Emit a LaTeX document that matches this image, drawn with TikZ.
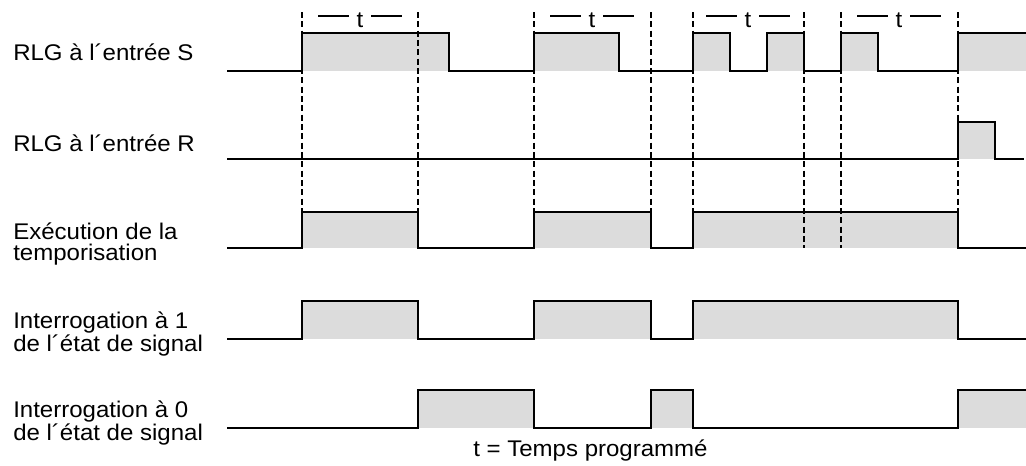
\documentclass[tikz,border=0pt]{standalone}
\usepackage{fontspec}
\setmainfont{Liberation Sans}[FakeStretch=1.06]
\definecolor{fillgray}{RGB}{220,220,220}
\begin{document}
\begin{tikzpicture}[x=0.75pt,y=-0.75pt,
  sig/.style={line width=1.5pt,line join=miter},
  hi/.style={fill=fillgray,draw=none},
  guide/.style={line width=0.8pt,dash pattern=on 4.5pt off 2.5pt},
  tbar/.style={line width=1.1pt},
  lab/.style={anchor=base west,inner sep=0pt,align=left,font=\fontsize{17}{15.75}\selectfont},
  tlab/.style={anchor=base,inner sep=0pt,font=\fontsize{17}{15.75}\selectfont}]
\useasboundingbox (0,0) rectangle (1026,465);

% labels (anchored at the baseline of the last line)
\node[lab] (l1) at (13,60) {RLG à l´entrée S};
\node[lab] (l2) at (13,151) {RLG à l´entrée R};
\node[lab] (l3) at (13,260) {Exécution de la\\temporisation};
\node[lab] (l4) at (13,351) {Interrogation à 1\\de l´état de signal};
\node[lab] (l5) at (13,440) {Interrogation à 0\\de l´état de signal};
\node[lab] (note) at (473,456) {t = Temps programmé};

% fills
\fill[hi] (302,71) rectangle (449,33);
\fill[hi] (534,71) rectangle (619,33);
\fill[hi] (693,71) rectangle (730,33);
\fill[hi] (767,71) rectangle (804,33);
\fill[hi] (841,71) rectangle (878,33);
\fill[hi] (958,71) rectangle (1026,33);
\fill[hi] (958,159) rectangle (995,122);
\fill[hi] (302,248) rectangle (418,212);
\fill[hi] (534,248) rectangle (651,212);
\fill[hi] (693,248) rectangle (958,212);
\fill[hi] (302,339) rectangle (418,301);
\fill[hi] (534,339) rectangle (651,301);
\fill[hi] (693,339) rectangle (958,301);
\fill[hi] (418,428) rectangle (534,390);
\fill[hi] (651,428) rectangle (693,390);
\fill[hi] (958,428) rectangle (1026,390);

% guides
\foreach \x in {302,418,534,651,693,958} \draw[guide] (\x,12) -- (\x,212);
\foreach \x in {804,841} \draw[guide] (\x,12) -- (\x,248);

% t labels
\foreach \c/\n in {360/t1,592/t2,748/t3,899/t4}{
  \node[tlab] (\n) at (\c,27) {t};
  \draw[tbar] (\c-42,16) -- (\c-11,16);
  \draw[tbar] (\c+11,16) -- (\c+42,16);
}

% signals
\draw[sig] (227,71) -- (302,71) -- (302,33) -- (449,33) -- (449,71) -- (534,71) -- (534,33) -- (619,33) -- (619,71) -- (693,71) -- (693,33) -- (730,33) -- (730,71) -- (767,71) -- (767,33) -- (804,33) -- (804,71) -- (841,71) -- (841,33) -- (878,33) -- (878,71) -- (958,71) -- (958,33) -- (1026,33);
\draw[sig] (227,159) -- (958,159) -- (958,122) -- (995,122) -- (995,159) -- (1024,159);
\draw[sig] (227,248) -- (302,248) -- (302,212) -- (418,212) -- (418,248) -- (534,248) -- (534,212) -- (651,212) -- (651,248) -- (693,248) -- (693,212) -- (958,212) -- (958,248) -- (1026,248);
\draw[sig] (227,339) -- (302,339) -- (302,301) -- (418,301) -- (418,339) -- (534,339) -- (534,301) -- (651,301) -- (651,339) -- (693,339) -- (693,301) -- (958,301) -- (958,339) -- (1026,339);
\draw[sig] (227,428) -- (418,428) -- (418,390) -- (534,390) -- (534,428) -- (651,428) -- (651,390) -- (693,390) -- (693,428) -- (958,428) -- (958,390) -- (1026,390);
\end{tikzpicture}
\end{document}
